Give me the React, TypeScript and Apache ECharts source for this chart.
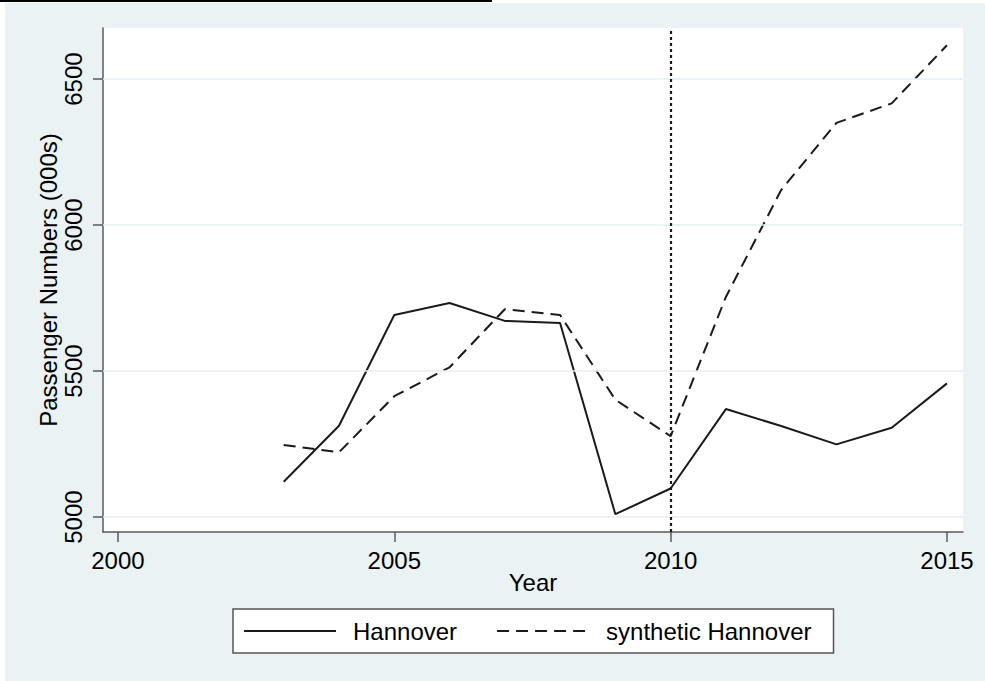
import React, { useEffect, useRef } from "react";
import * as echarts from "echarts";

const years = [2003, 2004, 2005, 2006, 2007, 2008, 2009, 2010, 2011, 2012, 2013, 2014, 2015];
const hannover = [5121, 5313, 5692, 5733, 5672, 5665, 5010, 5098, 5370, 5312, 5249, 5306, 5458];
const synthetic = [5247, 5222, 5414, 5513, 5712, 5692, 5402, 5277, 5754, 6120, 6350, 6417, 6616];
const xTicks = [2000, 2005, 2010, 2015];
const yTicks = [5000, 5500, 6000, 6500];
const treatmentYear = 2010;
const seriesNames = ["Hannover", "synthetic Hannover"];

const FONT = "'Liberation Sans', Arial, sans-serif";

export default function App() {
  const ref = useRef<HTMLDivElement>(null);
  useEffect(() => {
    document.body.style.margin = "0";
    const chart = echarts.init(ref.current!, null, { renderer: "svg" });
    const axisLine = { show: true, lineStyle: { color: "#5a5a5a", width: 1.5 } };
    chart.setOption({
      animation: false,
      backgroundColor: "transparent",
      textStyle: { fontFamily: FONT },
      grid: {
        show: true,
        left: 103,
        top: 28,
        right: 22,
        bottom: 149,
        backgroundColor: "#ffffff",
        borderWidth: 0,
      },
      legend: {
        data: seriesNames,
        left: 233,
        top: 609,
        padding: [10, 22, 10, 10],
        itemGap: 39,
        itemWidth: 92,
        itemHeight: 24,
        backgroundColor: "#ffffff",
        borderColor: "#555",
        borderWidth: 1.5,
        borderRadius: 0,
        itemStyle: { opacity: 0 },
        textStyle: { fontSize: 24, color: "#000", fontFamily: FONT, padding: [0, 0, 0, 12] },
      },
      xAxis: {
        type: "value",
        min: 1999.73,
        max: 2015.29,
        name: "Year",
        nameLocation: "middle",
        nameGap: 38,
        nameMoveOverlap: false,
        nameTextStyle: { fontSize: 24, color: "#000", fontFamily: FONT },
        axisLine,
        axisTick: { show: true, length: 10, customValues: xTicks, lineStyle: { color: "#5a5a5a", width: 1.5 } },
        axisLabel: {
          customValues: xTicks,
          fontSize: 24,
          color: "#000",
          margin: 16,
          fontFamily: FONT,
          formatter: (v: number) => String(v),
        },
        splitLine: { show: false },
      },
      yAxis: {
        type: "value",
        min: 4949,
        max: 6675,
        name: "Passenger Numbers (000s)",
        nameLocation: "middle",
        nameRotate: 90,
        nameGap: 43,
        nameMoveOverlap: false,
        nameTextStyle: { fontSize: 24, color: "#000", fontFamily: FONT },
        axisLine,
        axisTick: { show: true, length: 10, customValues: yTicks, lineStyle: { color: "#5a5a5a", width: 1.5 } },
        axisLabel: {
          customValues: yTicks,
          rotate: 90,
          fontSize: 24,
          color: "#000",
          margin: 18,
          fontFamily: FONT,
          formatter: (v: number) => String(v),
        },
        splitLine: { show: false },
      },
      series: [
        {
          name: "grid",
          type: "line",
          data: [],
          silent: true,
          z: 1,
          markLine: {
            silent: true,
            symbol: "none",
            label: { show: false },
            lineStyle: { color: "#E6EEF0", width: 1.5, type: "solid" },
            data: yTicks.map((v) => ({ yAxis: v })),
          },
        },
        {
          name: seriesNames[0],
          type: "line",
          data: years.map((y, i) => [y, hannover[i]]),
          symbol: "none",
          z: 3,
          lineStyle: { color: "#1a1a1a", width: 2, type: "solid" },
          itemStyle: { color: "#1a1a1a" },
        },
        {
          name: seriesNames[1],
          type: "line",
          data: years.map((y, i) => [y, synthetic[i]]),
          symbol: "none",
          z: 3,
          lineStyle: { color: "#1a1a1a", width: 2, type: [12, 7] },
          itemStyle: { color: "#1a1a1a" },
          markLine: {
            silent: true,
            symbol: "none",
            label: { show: false },
            lineStyle: { color: "#1a1a1a", width: 2.2, type: [3, 3] },
            data: [{ xAxis: treatmentYear }],
          },
        },
      ],
    });
    return () => chart.dispose();
  }, []);
  return (
    <div style={{ position: "relative", width: 985, height: 681, background: "#ffffff", overflow: "hidden" }}>
      <div style={{ position: "absolute", left: 5, top: 3, width: 980, height: 678, background: "#EAF2F3" }} />
      <div style={{ position: "absolute", left: 0, top: 0, width: 492, height: 2, background: "#000" }} />
      <div ref={ref} style={{ position: "absolute", left: 0, top: 0, width: 985, height: 681 }} />
    </div>
  );
}
